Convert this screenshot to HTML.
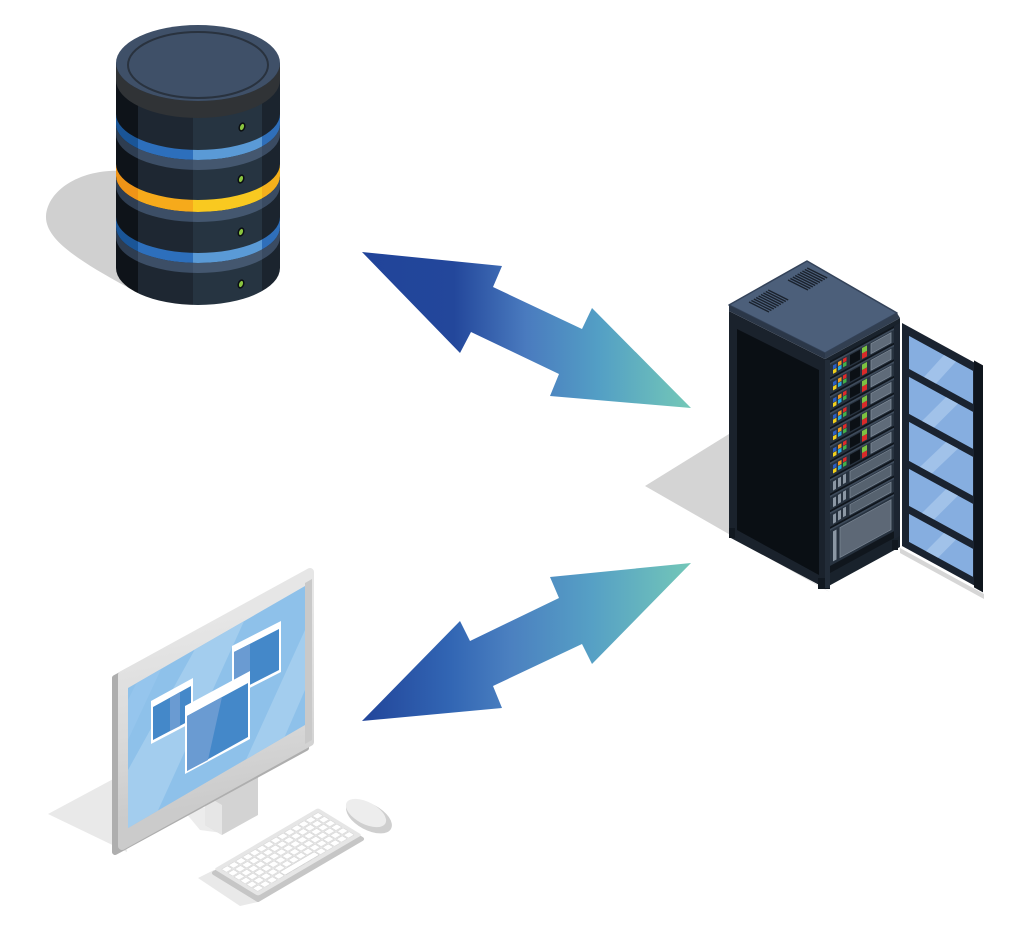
<!DOCTYPE html>
<html><head><meta charset="utf-8"><style>html,body{margin:0;padding:0;background:#fff}svg{display:block}</style></head>
<body>
<svg width="1030" height="938" viewBox="0 0 1030 938" xmlns="http://www.w3.org/2000/svg">
<defs>
<linearGradient id="arr1" gradientUnits="userSpaceOnUse" x1="362" y1="0" x2="691" y2="0">
<stop offset="0" stop-color="#21449a"/>
<stop offset="0.28" stop-color="#23479b"/>
<stop offset="0.5" stop-color="#4a7bbf"/>
<stop offset="0.72" stop-color="#539fc5"/>
<stop offset="1" stop-color="#74c8b7"/>
</linearGradient>
<linearGradient id="arr2" gradientUnits="userSpaceOnUse" x1="362" y1="0" x2="691" y2="0">
<stop offset="0" stop-color="#22459a"/>
<stop offset="0.27" stop-color="#3266b4"/>
<stop offset="0.45" stop-color="#4b80c0"/>
<stop offset="0.7" stop-color="#56a0c5"/>
<stop offset="1" stop-color="#73c7b8"/>
</linearGradient>
<linearGradient id="blueB" gradientUnits="userSpaceOnUse" x1="116" y1="0" x2="280" y2="0">
<stop offset="0" stop-color="#1a5597"/><stop offset="0.134" stop-color="#1a5597"/>
<stop offset="0.134" stop-color="#2d6fbc"/><stop offset="0.47" stop-color="#2d6fbc"/>
<stop offset="0.47" stop-color="#5a9ad6"/><stop offset="0.89" stop-color="#5a9ad6"/>
<stop offset="0.89" stop-color="#2f6fba"/><stop offset="1" stop-color="#2f6fba"/>
</linearGradient>
<linearGradient id="yelB" gradientUnits="userSpaceOnUse" x1="116" y1="0" x2="280" y2="0">
<stop offset="0" stop-color="#ef9417"/><stop offset="0.134" stop-color="#ef9417"/>
<stop offset="0.134" stop-color="#f6aa1b"/><stop offset="0.47" stop-color="#f6aa1b"/>
<stop offset="0.47" stop-color="#f9c920"/><stop offset="0.89" stop-color="#f9c920"/>
<stop offset="0.89" stop-color="#f4b01c"/><stop offset="1" stop-color="#f4b01c"/>
</linearGradient>
<linearGradient id="slaB" gradientUnits="userSpaceOnUse" x1="116" y1="0" x2="280" y2="0">
<stop offset="0" stop-color="#2e3d51"/><stop offset="0.134" stop-color="#2e3d51"/>
<stop offset="0.134" stop-color="#3c4e66"/><stop offset="0.47" stop-color="#3c4e66"/>
<stop offset="0.47" stop-color="#44576f"/><stop offset="0.89" stop-color="#44576f"/>
<stop offset="0.89" stop-color="#3a4b62"/><stop offset="1" stop-color="#3a4b62"/>
</linearGradient>
<linearGradient id="bez" gradientUnits="userSpaceOnUse" x1="205" y1="620" x2="235" y2="800">
<stop offset="0" stop-color="#e6e6e6"/>
<stop offset="0.55" stop-color="#dadada"/>
<stop offset="1" stop-color="#cbcbcb"/>
</linearGradient>
<clipPath id="dbc"><path d="M116,63 L116,268 A82,37 0 0 0 280,268 L280,63 Z"/></clipPath>
<clipPath id="scr"><polygon points="128,688 305,586 305,725 128,828"/></clipPath>
<pattern id="keys" patternUnits="userSpaceOnUse" x="3" y="3" width="6.714" height="5.667">
<rect x="0.5" y="0.5" width="5.6" height="4.5" rx="0.6" fill="#ffffff" stroke="#c9c9c9" stroke-width="0.35"/>
</pattern>
<g id="lu">
 <rect x="0" y="0" width="64" height="15.2" fill="#27323f"/>
 <rect x="0" y="0" width="64" height="1.8" fill="#3e4b5b"/>
 <rect x="0" y="14.6" width="64" height="1.4" fill="#0f151c"/>
 <rect x="3" y="4" width="3.5" height="4" fill="#2c5fc2"/>
 <rect x="3" y="8.5" width="3.5" height="4" fill="#f0d01c"/>
 <rect x="8" y="3.5" width="3.5" height="4" fill="#f39a1f"/>
 <rect x="8" y="8" width="3.5" height="4" fill="#2aa9e1"/>
 <rect x="13" y="3" width="3.5" height="4" fill="#e02a2a"/>
 <rect x="13" y="7.5" width="3.5" height="4" fill="#42b14a"/>
 <rect x="20" y="3" width="10" height="10" fill="#0b1015"/>
 <rect x="32" y="2.5" width="5" height="5.5" fill="#7cc242"/>
 <rect x="32" y="8" width="5" height="5.5" fill="#d92a2a"/>
 <rect x="41" y="3" width="20" height="10" fill="#5f6b79" stroke="#808c99" stroke-width="0.8"/>
</g>
<g id="gu">
 <rect x="0" y="0" width="64" height="15.2" fill="#27323f"/>
 <rect x="0" y="0" width="64" height="1.8" fill="#3e4b5b"/>
 <rect x="0" y="14.6" width="64" height="1.4" fill="#0f151c"/>
 <rect x="3" y="4" width="3" height="9" fill="#8b97a4"/>
 <rect x="8" y="3.5" width="3" height="9" fill="#8b97a4"/>
 <rect x="13" y="3" width="3" height="9" fill="#8b97a4"/>
 <rect x="20" y="3" width="41" height="10" fill="#56626f" stroke="#7a8693" stroke-width="0.8"/>
</g>
</defs>

<!-- Arrows -->
<polygon points="362,252 502,266 493,287 582,329 592,308 691,408 550,396 559,374 471,332 460,353" fill="url(#arr1)"/>
<polygon points="691,563 550,577 559,598 470,641 460,621 362,721 502,708 493,686 582,644 592,664" fill="url(#arr2)"/>

<!-- Database -->
<path d="M124,171 C84,168 48,188 46,216 C45,240 80,262 140,294 L140,171 Z" fill="#d0d0d0"/>
<g clip-path="url(#dbc)">
 <rect x="116" y="40" width="22" height="280" fill="#0e1319"/>
 <rect x="138" y="40" width="55" height="280" fill="#1e2732"/>
 <rect x="193" y="40" width="69" height="280" fill="#263441"/>
 <rect x="262" y="40" width="18" height="280" fill="#1b242e"/>
 <path d="M116,63 A82,38 0 0 0 280,63 L280,80 A82,38 0 0 1 116,80 Z" fill="#303336"/>
 <path d="M116,114 A82,36 0 0 0 280,114 L280,124 A82,36 0 0 1 116,124 Z" fill="url(#blueB)"/>
 <path d="M116,124 A82,36 0 0 0 280,124 L280,134 A82,36 0 0 1 116,134 Z" fill="url(#slaB)"/>
 <path d="M116,164 A82,36 0 0 0 280,164 L280,176 A82,36 0 0 1 116,176 Z" fill="url(#yelB)"/>
 <path d="M116,176 A82,36 0 0 0 280,176 L280,186 A82,36 0 0 1 116,186 Z" fill="url(#slaB)"/>
 <path d="M116,217 A82,36 0 0 0 280,217 L280,227 A82,36 0 0 1 116,227 Z" fill="url(#blueB)"/>
 <path d="M116,227 A82,36 0 0 0 280,227 L280,237 A82,36 0 0 1 116,237 Z" fill="url(#slaB)"/>
</g>
<ellipse cx="198" cy="63" rx="82" ry="38" fill="#3f5068"/>
<ellipse cx="198" cy="65" rx="70" ry="33" fill="none" stroke="#29323e" stroke-width="2"/>
<g fill="#8bc53f" stroke="#0b0f12" stroke-width="1.5">
 <ellipse cx="242" cy="127" rx="2.6" ry="4" transform="rotate(20 242 127)"/>
 <ellipse cx="241" cy="179" rx="2.6" ry="4" transform="rotate(20 241 179)"/>
 <ellipse cx="241" cy="232" rx="2.6" ry="4" transform="rotate(20 241 232)"/>
 <ellipse cx="241" cy="284" rx="2.6" ry="4" transform="rotate(20 241 284)"/>
</g>

<!-- Server rack -->
<polygon points="645,486 729,434 729,536 826,590 830,592" fill="#d4d4d4"/>
<polygon points="900,548 984,594 984,599 900,553" fill="#d6d6d6"/>
<polygon points="729,311 825,359 825,588 729,537" fill="#1a222c"/>
<polygon points="737,329 819,370 819,575 737,530" fill="#0a0f14"/>
<rect x="729" y="528" width="6" height="10" fill="#111820"/>
<rect x="818" y="578" width="12" height="11" fill="#111820"/>
<polygon points="825,359 900,318 900,547 825,588" fill="#19222c"/>
<rect x="825" y="360" width="5" height="228" fill="#222c38"/>
<g transform="translate(830,0) skewY(-28.6)">
 <rect x="0" y="361" width="65" height="212" fill="#10161d"/>
 <use href="#lu" y="363"/>
 <use href="#lu" y="379.6"/>
 <use href="#lu" y="396.2"/>
 <use href="#lu" y="412.8"/>
 <use href="#lu" y="429.4"/>
 <use href="#lu" y="446"/>
 <use href="#lu" y="462.6"/>
 <use href="#gu" y="479.2"/>
 <use href="#gu" y="495.8"/>
 <use href="#gu" y="512.4"/>
 <rect x="0" y="529" width="64" height="37" fill="#27323f"/>
 <rect x="0" y="529" width="64" height="1.8" fill="#3e4b5b"/>
 <rect x="3" y="533" width="3.5" height="30" fill="#8b97a4"/>
 <rect x="10" y="533" width="51" height="30" fill="#5d6876" stroke="#7a8693" stroke-width="0.8"/>
 <rect x="64" y="361" width="6" height="213" fill="#1c2531"/>
</g>
<rect x="892" y="540" width="6" height="10" fill="#111820"/>
<polygon points="729,305 807,261 897,313 825,353" fill="#4c5f7a" stroke="#34435a" stroke-width="1.5" stroke-linejoin="round"/>
<polygon points="729,305 825,353 825,359 729,311" fill="#2b3748"/>
<polygon points="825,353 897,313 900,318 825,359" fill="#323f51"/>
<g stroke="#1a222d" stroke-width="1.3">
 <line x1="749" y1="302" x2="769" y2="312"/>
 <line x1="751.4" y1="300.5" x2="771.4" y2="310.5"/>
 <line x1="753.8" y1="299" x2="773.8" y2="309"/>
 <line x1="756.2" y1="297.5" x2="776.2" y2="307.5"/>
 <line x1="758.6" y1="296" x2="778.6" y2="306"/>
 <line x1="761" y1="294.5" x2="781" y2="304.5"/>
 <line x1="763.4" y1="293" x2="783.4" y2="303"/>
 <line x1="765.8" y1="291.5" x2="785.8" y2="301.5"/>
 <line x1="768.2" y1="290" x2="788.2" y2="300"/>
 <line x1="788" y1="280" x2="808" y2="290"/>
 <line x1="790.4" y1="278.5" x2="810.4" y2="288.5"/>
 <line x1="792.8" y1="277" x2="812.8" y2="287"/>
 <line x1="795.2" y1="275.5" x2="815.2" y2="285.5"/>
 <line x1="797.6" y1="274" x2="817.6" y2="284"/>
 <line x1="800" y1="272.5" x2="820" y2="282.5"/>
 <line x1="802.4" y1="271" x2="822.4" y2="281"/>
 <line x1="804.8" y1="269.5" x2="824.8" y2="279.5"/>
 <line x1="807.2" y1="268" x2="827.2" y2="278"/>
</g>
<!-- Door -->
<g transform="translate(902,0) skewY(28.7)">
 <rect x="0" y="323" width="72" height="223" fill="#1a2330"/>
 <rect x="72" y="321" width="9" height="227" fill="#0f151d"/>
 <rect x="7" y="332" width="64" height="33" fill="#86aee0"/>
 <rect x="7" y="373" width="64" height="37" fill="#86aee0"/>
 <rect x="7" y="418" width="64" height="39" fill="#86aee0"/>
 <rect x="7" y="465" width="64" height="37" fill="#86aee0"/>
 <rect x="7" y="510" width="64" height="28" fill="#86aee0"/>
 <g fill="#a8c7ec" opacity="0.8">
  <polygon points="22,365 34,365 54,332 42,332"/>
  <polygon points="20,410 32,410 56,373 44,373"/>
  <polygon points="18,457 30,457 56,418 44,418"/>
  <polygon points="20,502 32,502 56,465 44,465"/>
  <polygon points="24,538 36,538 54,510 42,510"/>
 </g>
</g>

<!-- Computer -->
<polygon points="48,814 117,777 127,852" fill="#e9e9e9"/>
<polygon points="185,812 215,805 222,833 200,830" fill="#ececec"/>
<polygon points="198,878 214,870 258,902 240,906" fill="#e9e9e9"/>
<polygon points="205,795 258,765 258,815 222,835 205,825" fill="#d3d3d3"/>
<polygon points="205,795 222,805 222,835 205,825" fill="#e6e6e6"/>
<polygon points="115,678 306,574 306,748 115,852" fill="#aeaeae" stroke="#aeaeae" stroke-width="6" stroke-linejoin="round"/>
<polygon points="122,675 310,572 310,742 122,846" fill="url(#bez)" stroke="url(#bez)" stroke-width="8" stroke-linejoin="round"/>
<polygon points="305,583 312,579 312,740 305,744" fill="#c9c9c9"/>
<polygon points="128,688 305,586 305,725 128,828" fill="#8ec1ea"/>
<g clip-path="url(#scr)">
 <polygon points="128,770 128,828 150,828 260,586 230,586" fill="#a3cdee"/>
 <polygon points="215,828 245,828 305,690 305,630" fill="#a3cdee"/>
 <polygon points="128,700 128,740 200,586 185,586" fill="#9ac8ee" opacity="0.6"/>
</g>
<!-- windows -->
<polygon points="151,701 193,678 193,722 151,744" fill="#ffffff"/>
<polygon points="153,707 191,686 191,720 153,740" fill="#4488c9"/>
<polygon points="170,698 180,692 180,726 170,731" fill="#6a9bd2"/>
<polygon points="232,646 281,621 281,672 232,697" fill="#ffffff"/>
<polygon points="234,652 279,629 279,670 234,693" fill="#4488c9"/>
<polygon points="234,652 250,644 250,685 234,693" fill="#6a9bd2"/>
<polygon points="185,706 250,671 250,739 185,774" fill="#ffffff"/>
<polygon points="187,716 248,683 248,737 187,771" fill="#4488c9"/>
<polygon points="187,716 222,697 208,760 187,771" fill="#6a9bd2"/>
<!-- keyboard -->
<polygon points="214,873 318,812 362,839 258,900" fill="#c6c6c6" stroke="#c6c6c6" stroke-width="4" stroke-linejoin="round"/>
<g transform="matrix(1.04,-0.61,1.1,0.675,214,869)">
 <rect x="0" y="0" width="100" height="40" rx="2" fill="#e6e6e6"/>
 <rect x="3" y="3" width="94" height="34" fill="url(#keys)"/>
 <rect x="30" y="31.5" width="33" height="4.6" rx="0.6" fill="#ffffff" stroke="#c9c9c9" stroke-width="0.35"/>
</g>
<!-- mouse -->
<ellipse cx="369" cy="817" rx="25" ry="13" transform="rotate(28 369 817)" fill="#cfcfcf"/>
<ellipse cx="366" cy="813" rx="22" ry="11" transform="rotate(28 366 813)" fill="#ededed"/>
</svg>
</body></html>
